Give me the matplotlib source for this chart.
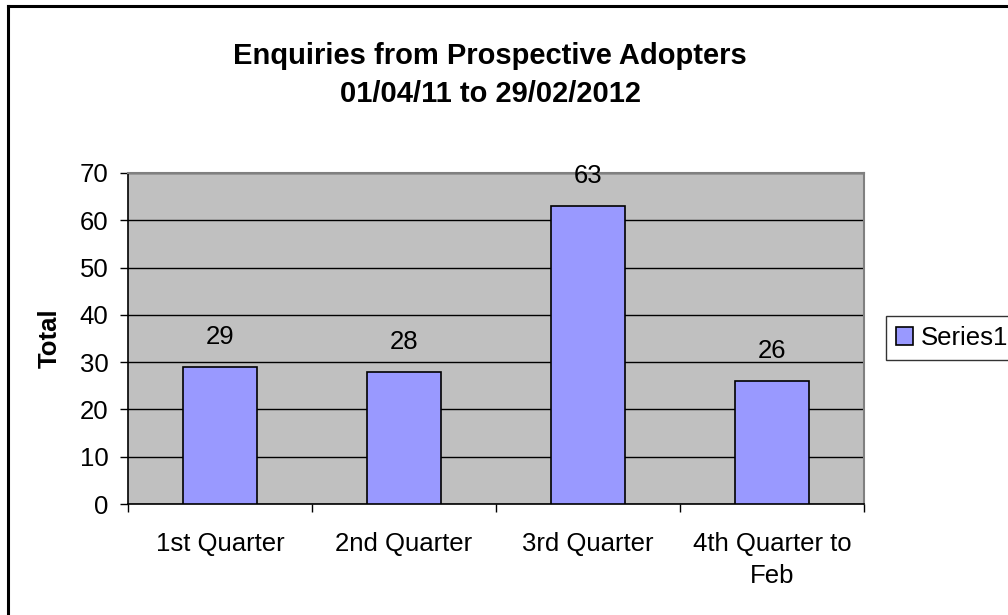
import matplotlib
matplotlib.use("Agg")
import matplotlib.pyplot as plt
from matplotlib.lines import Line2D
from matplotlib.patches import Patch

plt.rcParams["font.family"] = ["Liberation Sans", "DejaVu Sans"]

categories = ["1st Quarter", "2nd Quarter", "3rd Quarter", "4th Quarter to\nFeb"]
totals = [29, 28, 63, 26]
y_ticks = [0, 10, 20, 30, 40, 50, 60, 70]

FS = 18.5

fig = plt.figure(figsize=(10.08, 6.15), dpi=100)
ax = fig.add_axes([128 / 1008, 1 - 504 / 615, 736 / 1008, 331 / 615])

ax.set_facecolor("#C0C0C0")
x = list(range(len(categories)))
ax.bar(x, totals, width=0.4, color="#9999FF", edgecolor="black",
       linewidth=1.2, zorder=3, label="Series1")

for xi, v in zip(x, totals):
    ax.annotate(str(v), (xi, v), xytext=(0, 21.6), textcoords="offset points",
                ha="center", va="center", fontsize=FS, zorder=4)

ax.set_xlim(-0.5, len(categories) - 0.5)
ax.set_ylim(0, 70)
ax.set_yticks(y_ticks)
ax.yaxis.grid(True, color="black", linewidth=1.0, zorder=1)
ax.set_axisbelow(True)

ax.set_xticks(x)
ax.set_xticklabels(categories, fontsize=FS, linespacing=1.45)
ax.set_xticks([i - 0.5 for i in range(len(categories) + 1)], minor=True)
ax.tick_params(axis="x", which="major", length=0, pad=20)
ax.tick_params(axis="x", which="minor", length=6, width=1.0, direction="out")
ax.tick_params(axis="y", length=6, width=1.0, pad=8, labelsize=FS)

for side in ("top", "right"):
    ax.spines[side].set_color("#808080")
    ax.spines[side].set_linewidth(1.5)
for side in ("left", "bottom"):
    ax.spines[side].set_color("black")
    ax.spines[side].set_linewidth(1.2)

ax.set_ylabel("Total", fontsize=FS, fontweight="bold", labelpad=13)

fig.suptitle("Enquiries from Prospective Adopters\n01/04/11 to 29/02/2012",
             x=490 / 1008, y=1 - 42 / 615, fontsize=21, fontweight="bold",
             linespacing=1.45, va="top")

handle = Patch(facecolor="#9999FF", edgecolor="black", linewidth=1.2)
fig.legend([handle], ["Series1"], loc="center left",
           bbox_to_anchor=(886 / 1008, 1 - 338 / 615), fontsize=FS,
           frameon=True, fancybox=False, edgecolor="black", handlelength=0.65,
           handleheight=0.65, handletextpad=0.3, borderpad=0.4,
           borderaxespad=0)

# outer chart border (clipped on right and bottom)
fig.add_artist(Line2D([8 / 1008, 8 / 1008], [0, 1 - 6 / 615],
                      transform=fig.transFigure, color="black", linewidth=2.2))
fig.add_artist(Line2D([8 / 1008, 1], [1 - 6 / 615, 1 - 6 / 615],
                      transform=fig.transFigure, color="black", linewidth=2.2))

fig.savefig("out.png", dpi=100)
